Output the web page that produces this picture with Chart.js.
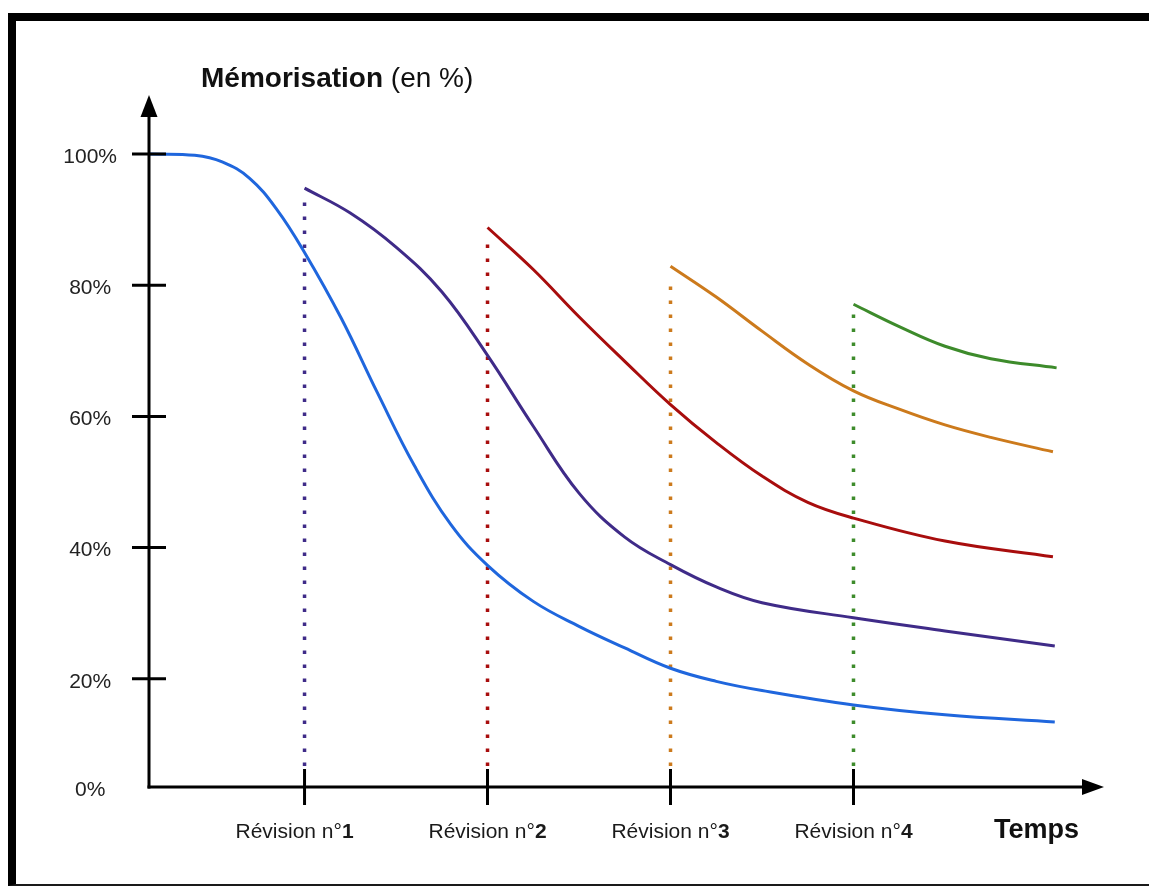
<!DOCTYPE html>
<html><head><meta charset="utf-8">
<script src="https://cdn.jsdelivr.net/npm/chart.js@4"></script>
<style>
html,body{margin:0;padding:0;background:#fff;width:1149px;height:886px;overflow:hidden;}
#frame{position:absolute;left:8px;top:13px;width:1133px;height:863px;border-top:8px solid #000;border-left:8px solid #000;border-bottom:2px solid #1a1a1a;}
#c{position:absolute;left:0;top:0;}
</style></head><body>
<div id="frame"></div>
<canvas id="c" width="1149" height="886"></canvas>
<script>
// ---- data ----
const revisions = [1, 2, 3, 4];
const revisionNumbers = ['1', '2', '3', '4'];
const revisionPrefix = 'Révision n°';
const timeLabel = 'Temps';
const timeLabelAt = 5;
const yTitleBold = 'Mémorisation';
const yTitleRest = ' (en %)';
const yTickValues = [0, 20, 40, 60, 80, 100];
const yTickLabels = ['0%', '20%', '40%', '60%', '80%', '100%'];
const dotBottom = 6.7;

const blueT = [0.15, 0.40, 0.55, 0.70, 0.85, 1.0, 1.2, 1.4, 1.6, 1.8, 2.0, 2.25, 2.5, 2.75, 3.0, 3.25, 3.5, 4.0, 4.5, 5.1];
const blueV = [100, 99.8, 98.8, 96.3, 91.5, 85.0, 75.0, 63.5, 52.5, 43.5, 37.3, 31.8, 28.0, 24.7, 21.6, 19.6, 18.2, 16.0, 14.5, 13.4];
const purpleT = [1.0, 1.25, 1.5, 1.75, 2.0, 2.25, 2.5, 2.75, 3.0, 3.25, 3.5, 4.0, 4.5, 5.1];
const purpleV = [94.8, 91.0, 85.8, 79.0, 69.3, 58.5, 48.3, 41.6, 37.4, 34.0, 31.6, 29.3, 27.3, 25.0];
const redT = [2.0, 2.25, 2.5, 2.75, 3.0, 3.25, 3.5, 3.75, 4.0, 4.5, 5.09];
const redV = [88.8, 82.4, 75.2, 68.4, 61.8, 56.0, 50.9, 46.9, 44.5, 41.0, 38.6];
const orangeT = [3.0, 3.25, 3.5, 3.75, 4.0, 4.25, 4.5, 4.75, 5.09];
const orangeV = [82.9, 78.2, 73.0, 68.0, 63.9, 61.1, 58.7, 56.8, 54.6];
const greenT = [4.0, 4.25, 4.5, 4.75, 5.11];
const greenV = [77.1, 73.7, 70.7, 68.8, 67.4];

const curveT = [blueT, purpleT, redT, orangeT, greenT];
const curveV = [blueV, purpleV, redV, orangeV, greenV];
const curveColors = ['#1f66dd', '#3f2b88', '#a80d0d', '#cc7a1c', '#3d8b2b'];

// ---- chart ----
const pts = (ts, vs) => ts.map((t, i) => ({ x: t, y: vs[i] }));
const datasets = [];
curveT.forEach((ts, i) => {
  datasets.push({
    data: pts(ts, curveV[i]), borderColor: curveColors[i], borderWidth: 3,
    pointRadius: 0, tension: 0.4, fill: false, order: 0
  });
});
revisions.forEach((r, i) => {
  datasets.push({
    data: [{ x: r, y: dotBottom }, { x: r, y: curveV[i + 1][0] - 1.5 }],
    borderColor: curveColors[i + 1], borderWidth: 3.5, borderDash: [3.5, 10.5],
    pointRadius: 0, fill: false, order: 1
  });
});

const FONT = '"Liberation Sans", Arial, sans-serif';
const decor = {
  id: 'decor',
  afterDatasetsDraw(chart) {
    const { ctx, chartArea: a, scales: { x, y } } = chart;
    const line = (x1, y1, x2, y2) => { ctx.beginPath(); ctx.moveTo(x1, y1); ctx.lineTo(x2, y2); ctx.stroke(); };
    ctx.save();
    ctx.strokeStyle = '#000'; ctx.fillStyle = '#000'; ctx.lineWidth = 3; ctx.lineCap = 'butt';
    // y axis + arrow
    line(a.left, a.bottom + 1.5, a.left, a.top + 18);
    ctx.beginPath(); ctx.moveTo(a.left, a.top); ctx.lineTo(a.left - 8.5, a.top + 22); ctx.lineTo(a.left + 8.5, a.top + 22); ctx.closePath(); ctx.fill();
    // x axis + arrow
    line(a.left - 1.5, a.bottom, a.right - 18, a.bottom);
    ctx.beginPath(); ctx.moveTo(a.right, a.bottom); ctx.lineTo(a.right - 22, a.bottom - 8); ctx.lineTo(a.right - 22, a.bottom + 8); ctx.closePath(); ctx.fill();
    // y tick marks
    y.ticks.forEach(tk => {
      if (tk.value <= y.min) return;
      const py = y.getPixelForValue(tk.value);
      line(a.left - 17, py, a.left + 17, py);
    });
    // x tick marks + labels
    ctx.fillStyle = '#1a1a1a';
    ctx.textBaseline = 'alphabetic';
    revisions.forEach((r, i) => {
      const px = x.getPixelForValue(r);
      line(px, a.bottom - 18, px, a.bottom + 18);
      ctx.font = '21px ' + FONT;
      const w1 = ctx.measureText(revisionPrefix).width;
      ctx.font = 'bold 21px ' + FONT;
      const w2 = ctx.measureText(revisionNumbers[i]).width;
      const shift = i === 0 ? -10 : 0;
      const sx = px - (w1 + w2) / 2 + shift;
      ctx.textAlign = 'left';
      ctx.font = '21px ' + FONT;
      ctx.fillText(revisionPrefix, sx, a.bottom + 51);
      ctx.font = 'bold 21px ' + FONT;
      ctx.fillText(revisionNumbers[i], sx + w1, a.bottom + 51);
    });
    // Temps
    ctx.fillStyle = '#111';
    ctx.font = 'bold 27px ' + FONT;
    ctx.textAlign = 'center';
    ctx.fillText(timeLabel, x.getPixelForValue(timeLabelAt), a.bottom + 51);
    // Title
    ctx.textAlign = 'left';
    ctx.font = 'bold 28px ' + FONT;
    const tx = a.left + 52, ty = a.top - 8;
    ctx.fillText(yTitleBold, tx, ty);
    const tw = ctx.measureText(yTitleBold).width;
    ctx.font = '28px ' + FONT;
    ctx.fillText(yTitleRest, tx + tw, ty);
    ctx.restore();
  }
};

new Chart(document.getElementById('c'), {
  type: 'line',
  data: { datasets },
  options: {
    responsive: false,
    animation: false,
    events: [],
    layout: { padding: { top: 95, right: 45, bottom: 99, left: 0 } },
    plugins: { legend: { display: false }, tooltip: { enabled: false } },
    scales: {
      x: { type: 'linear', min: 0.15, max: 5.369, display: false },
      y: {
        type: 'linear', min: 3.5, max: 109,
        grid: { display: false, drawTicks: false },
        border: { display: false },
        afterBuildTicks: s => { s.ticks = yTickValues.map(v => ({ value: Math.max(v, s.min) })); },
        afterFit: s => { s.width = 149; },
        ticks: {
          padding: 32, crossAlign: 'center', color: '#222', labelOffset: 3,
          font: { family: FONT, size: 21 },
          callback: (v, i) => yTickLabels[i]
        }
      }
    }
  },
  plugins: [decor]
});
</script>
</body></html>
